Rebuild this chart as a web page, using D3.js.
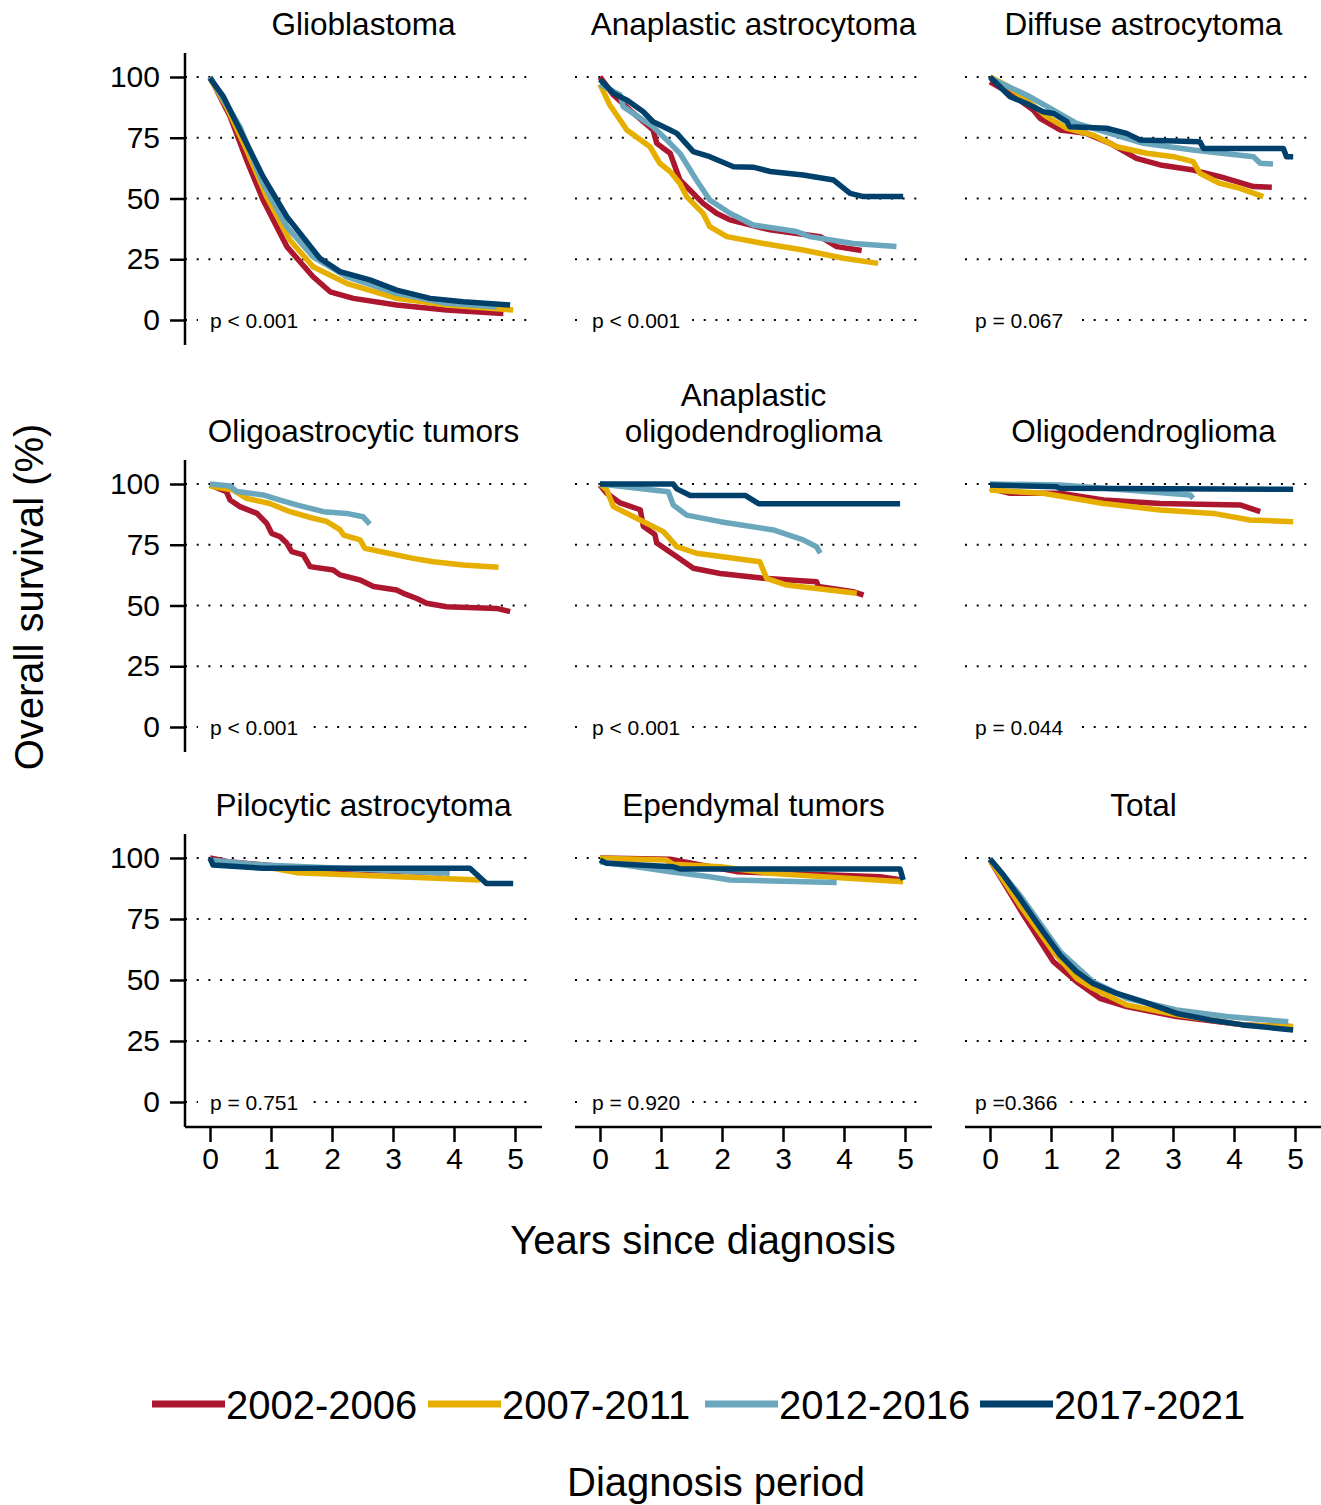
<!DOCTYPE html>
<html>
<head>
<meta charset="utf-8">
<script src="https://cdn.jsdelivr.net/npm/d3@7"></script>
<style>
  html, body { margin: 0; padding: 0; background: #fff; }
  svg text { font-family: "Liberation Sans", Arial, Helvetica, sans-serif; fill: #000; }
</style>
</head>
<body>
<svg id="chart" width="1321" height="1505"></svg>
<script>
// ---------------- DATA ----------------
const periods = ["2002-2006", "2007-2011", "2012-2016", "2017-2021"];
const panelTitles = [
  ["Glioblastoma"], ["Anaplastic astrocytoma"], ["Diffuse astrocytoma"],
  ["Oligoastrocytic tumors"], ["Anaplastic", "oligodendroglioma"], ["Oligodendroglioma"],
  ["Pilocytic astrocytoma"], ["Ependymal tumors"], ["Total"]
];
const pValues = ["p < 0.001", "p < 0.001", "p = 0.067",
                 "p < 0.001", "p < 0.001", "p = 0.044",
                 "p = 0.751", "p = 0.920", "p =0.366"];
const yTicks = [0, 25, 50, 75, 100];
const xTicks = [0, 1, 2, 3, 4, 5];

// each panel: [2002-2006, 2007-2011, 2012-2016, 2017-2021], points = [years, survival %]
const glioblastoma = [
  [[0,100],[0.33,83.7],[0.6,65.8],[0.87,49.4],[1.26,30.2],[1.69,17.8],[1.97,11.6],[2.35,8.9],[3.06,6.2],[3.88,4.1],[4.81,2.7]],
  [[0,99.5],[0.27,87.8],[0.6,70],[0.93,50.7],[1.31,32.9],[1.69,21.9],[2.24,15.1],[3.06,8.9],[3.88,6.2],[4.97,4.1]],
  [[0,100],[0.49,79.5],[0.87,56.2],[1.26,38.4],[1.69,26],[2.24,17.8],[3.06,11],[3.88,6.9],[4.7,5.5]],
  [[0,99.5],[0.22,91.9],[0.49,78.2],[0.87,59],[1.26,42.5],[1.8,25.4],[2.13,19.9],[2.62,16.5],[3.06,12.3],[3.61,8.9],[4.15,7.5],[4.92,6.2]]
];
const anaplasticAstrocytoma = [
  [[0,100],[0.22,92.6],[0.49,86.4],[0.87,78.2],[0.93,72.7],[1.15,68.6],[1.31,57.6],[1.69,48],[1.91,43.9],[2.13,41.2],[2.79,37.1],[3.61,34.3],[3.88,30.2],[4.29,28.6]],
  [[0,97],[0.16,88.5],[0.33,82.3],[0.44,78.2],[0.82,71.3],[0.98,64.5],[1.15,61.1],[1.31,56.2],[1.42,50.8],[1.69,43.9],[1.8,38.4],[2.08,34.3],[2.68,31.5],[3.33,28.8],[3.99,25.4],[4.56,23.3]],
  [[0,97],[0.33,92.6],[0.38,87.8],[0.87,79.5],[1.15,72.7],[1.31,68.6],[1.58,57.6],[1.8,49.4],[2.13,43.9],[2.51,39.1],[3.22,36.4],[3.44,34.3],[4.15,31.5],[4.86,30.2]],
  [[0,99],[0.22,93.3],[0.44,90.5],[0.71,85.7],[0.87,81.6],[1.15,78.2],[1.26,76.8],[1.53,69.3],[1.8,67.2],[2.19,63.1],[2.51,62.9],[2.79,61.1],[3.33,59.7],[3.83,57.6],[4.1,52.1],[4.32,50.8],[4.97,50.8]]
];
const diffuseAstrocytoma = [
  [[0,98],[0.33,93.3],[0.71,86.4],[0.82,83],[1.15,78.2],[1.58,76.8],[1.97,72.7],[2.4,66.5],[2.79,63.8],[3.33,61.7],[3.77,59],[4.32,54.9],[4.62,54.6]],
  [[0,100],[0.27,96.5],[0.6,90.5],[0.93,83.7],[1.26,78.9],[1.69,76.1],[2.08,71.3],[2.57,68.6],[3.01,67.2],[3.33,65.2],[3.44,60.4],[3.77,56.2],[4.1,54.2],[4.48,50.8]],
  [[0,99.5],[0.6,92.6],[1.04,86.4],[1.42,80.9],[1.97,76.8],[2.51,72.7],[3.33,70],[4.32,67.2],[4.43,64.5],[4.64,64.2]],
  [[0,100],[0.33,91.9],[0.6,89.1],[0.87,85.7],[1.04,85],[1.26,81.6],[1.31,79.5],[1.91,78.9],[2.24,76.8],[2.46,74.1],[3.44,73.4],[3.5,70.6],[4.81,70.6],[4.86,67.2],[4.97,67.2]]
];
const oligoastrocytic = [
  [[0,99.6],[0.27,96.8],[0.33,93.4],[0.49,90.7],[0.77,87.9],[0.93,83.8],[1.01,79.7],[1.15,78.3],[1.26,75.6],[1.34,72.2],[1.53,70.8],[1.64,66],[2.02,64.6],[2.13,62.6],[2.46,60.5],[2.68,57.8],[3.06,56.4],[3.17,55],[3.39,52.9],[3.55,50.9],[3.88,49.5],[4.7,48.8],[4.92,47.5]],
  [[0,99.2],[0.38,97.5],[0.6,94.1],[0.98,92],[1.31,88.6],[1.69,85.9],[1.91,84.6],[2.13,81.2],[2.19,79],[2.46,77],[2.54,73.5],[2.79,72.2],[3.33,69.4],[3.66,68],[4.15,66.7],[4.73,65.7]],
  [[0,100],[0.33,99.2],[0.44,96.9],[0.87,95.5],[1.15,93.4],[1.42,91.4],[1.86,88.6],[2.24,87.9],[2.51,86.5],[2.62,83.5]],
  []
];
const anaplasticOligodendroglioma = [
  [[0,99.6],[0.11,96.2],[0.33,92.2],[0.66,89.4],[0.71,82.6],[0.9,79.2],[0.93,75.7],[1.26,70.1],[1.53,65.3],[1.97,63.2],[2.68,61.2],[3.55,59.8],[3.58,57.8],[4.15,55.7],[4.32,54.3]],
  [[0,100],[0.11,97.5],[0.22,90.7],[0.6,85.9],[1.04,80.4],[1.26,74.2],[1.58,71.5],[2.62,68],[2.73,61.2],[3.06,58.4],[4.21,55]],
  [[0,100],[1.12,96.8],[1.2,91.4],[1.42,87.2],[1.97,84.5],[2.84,81.1],[3.33,77],[3.55,74.2],[3.61,71.5]],
  [[0,100],[1.2,100],[1.26,98],[1.48,95.3],[2.38,95.3],[2.6,91.9],[4.92,91.9]]
];
const oligodendroglioma = [
  [[0,98.2],[0.33,96.2],[1.15,96.2],[1.86,93.4],[2.79,92],[4.1,91.4],[4.43,88.6]],
  [[0,97.5],[0.87,96.2],[1.86,92],[2.79,89.3],[3.66,87.9],[4.26,85.2],[4.97,84.5]],
  [[0,100],[1.15,99.6],[2.24,97.5],[3.28,95.5],[3.33,94.1]],
  [[0,99.6],[1.09,98.9],[1.15,98.2],[4.97,97.8]]
];
const pilocyticAstrocytoma = [
  [[0,100],[0.3,98.5],[1.4,96],[3.8,94]],
  [[0,99],[0.87,96.5],[1.42,94],[4.43,91]],
  [[0,99.2],[0.87,97.1],[1.97,96],[3.93,93.7]],
  [[0,99.9],[0.05,97.1],[0.87,95.8],[4.26,95.8],[4.53,89.6],[4.97,89.6]]
];
const ependymal = [
  [[0,100],[1.15,99.5],[2.24,94.4],[4.59,92.3],[4.95,91]],
  [[0,99.9],[1.09,99.2],[1.2,97.4],[1.97,96.4],[2.79,93.7],[4.97,90.3]],
  [[0,98.5],[0.6,96.4],[1.15,94.4],[1.8,92.3],[2.13,91],[3.88,90]],
  [[0,99.2],[0.11,97.8],[1.2,96.4],[1.31,95.5],[4.92,95.5],[4.97,91]]
];
const total = [
  [[0,99.2],[0.55,76.6],[1.04,57.5],[1.42,49.3],[1.8,42.5],[2.24,39.1],[3.06,35],[4.15,31.6],[4.92,30.9]],
  [[0,99.2],[0.49,80.7],[1.04,61.6],[1.42,50.7],[1.69,46.6],[2.24,39.8],[3.06,35.7],[4.15,31.6],[4.97,30.9]],
  [[0,99.6],[0.49,84.8],[1.15,61.6],[1.69,49.3],[2.24,42.5],[3.06,37.7],[3.88,35],[4.89,32.9]],
  [[0,99.6],[0.22,93],[0.49,83.5],[0.87,69.8],[1.15,60.2],[1.42,53.4],[1.69,48.6],[2.08,44.5],[2.51,41.1],[3.06,36.3],[3.61,33.6],[4.15,31.6],[4.97,29.5]]
];
const panelData = [glioblastoma, anaplasticAstrocytoma, diffuseAstrocytoma,
  oligoastrocytic, anaplasticOligodendroglioma, oligodendroglioma,
  pilocyticAstrocytoma, ependymal, total];

// ---------------- LAYOUT / STYLE ----------------
const colors = ["#AC162E", "#E6AF00", "#6BA7BC", "#00406B"];
const colX0 = [210, 600, 990];          // pixel of year 0
const colWidth = 305;                    // pixels for 5 years
const rowY100 = [77, 484, 858];
const rowY0 = [320, 727, 1102];
const titleBase = [35, 442, 816];
const pOffset = [0, -8, -15];

const svg = d3.select("#chart");

panelData.forEach((series, i) => {
  const r = Math.floor(i / 3), c = i % 3;
  const x = d3.scaleLinear().domain([0, 5]).range([colX0[c], colX0[c] + colWidth]);
  const y = d3.scaleLinear().domain([0, 100]).range([rowY0[r], rowY100[r]]);
  const g = svg.append("g");
  const left = x(0) - 25, right = x(5) + 27;

  // dotted grid
  g.selectAll(".grid").data(yTicks).join("line")
    .attr("x1", left).attr("x2", right - 6)
    .attr("y1", d => y(d)).attr("y2", d => y(d))
    .attr("stroke", "#000").attr("stroke-width", 2.2)
    .attr("stroke-dasharray", "2,9.7");

  // p-value label with white box
  const pt = g.append("text")
    .attr("x", x(0) + pOffset[c]).attr("y", y(0) + 7.5)
    .attr("font-size", 21).text(pValues[i]);
  const bb = pt.node().getBBox();
  g.insert("rect", "text")
    .attr("x", bb.x - 12).attr("y", bb.y - 2)
    .attr("width", bb.width + 24).attr("height", bb.height + 4)
    .attr("fill", "#fff");

  // curves
  const line = d3.line().x(d => x(d[0])).y(d => y(d[1])).curve(d3.curveLinear);
  g.selectAll(".km").data(series).join("path")
    .attr("d", d => d.length ? line(d) : null)
    .attr("fill", "none")
    .attr("stroke", (d, k) => colors[k])
    .attr("stroke-width", 5.5)
    .attr("stroke-linejoin", "round");

  // title
  const tl = panelTitles[i];
  tl.forEach((t, k) => {
    g.append("text")
      .attr("x", (left + right) / 2)
      .attr("y", titleBase[r] - (tl.length - 1 - k) * 36)
      .attr("text-anchor", "middle")
      .attr("font-size", 31.5)
      .text(t);
  });

  // y axis (first column)
  if (c === 0) {
    const ya = d3.axisLeft(y).tickValues(yTicks).tickSize(15).tickPadding(10).tickSizeOuter(0);
    const ag = g.append("g").attr("transform", `translate(${left},0)`).call(ya);
    ag.select(".domain").remove();
    ag.selectAll(".tick line").attr("stroke", "#000").attr("stroke-width", 2.5);
    ag.selectAll(".tick text").attr("font-size", 30)
      .attr("font-family", "'Liberation Sans', Arial, sans-serif").attr("fill", "#000");
    g.append("line").attr("x1", left).attr("x2", left)
      .attr("y1", y(100) - 24).attr("y2", y(0) + 25)
      .attr("stroke", "#000").attr("stroke-width", 2.5);
  }
  // x axis (bottom row)
  if (r === 2) {
    const xa = d3.axisBottom(x).tickValues(xTicks).tickFormat(d3.format("d"))
      .tickSize(15).tickPadding(6).tickSizeOuter(0);
    const base = y(0) + 25;
    const ag = g.append("g").attr("transform", `translate(0,${base})`).call(xa);
    ag.select(".domain").remove();
    ag.selectAll(".tick line").attr("stroke", "#000").attr("stroke-width", 2.5);
    ag.selectAll(".tick text").attr("font-size", 30)
      .attr("font-family", "'Liberation Sans', Arial, sans-serif").attr("fill", "#000");
    g.append("line").attr("x1", left).attr("x2", right)
      .attr("y1", base).attr("y2", base)
      .attr("stroke", "#000").attr("stroke-width", 2.5);
  }
});

// axis titles
svg.append("text")
  .attr("transform", "translate(43,597) rotate(-90)")
  .attr("text-anchor", "middle").attr("font-size", 40)
  .text("Overall survival (%)");
svg.append("text")
  .attr("x", 703).attr("y", 1254)
  .attr("text-anchor", "middle").attr("font-size", 40)
  .text("Years since diagnosis");
svg.append("text")
  .attr("x", 716).attr("y", 1496)
  .attr("text-anchor", "middle").attr("font-size", 40)
  .text("Diagnosis period");

// legend
const legX = [152, 428, 705, 980];
const lg = svg.append("g");
periods.forEach((p, k) => {
  lg.append("line")
    .attr("x1", legX[k]).attr("x2", legX[k] + 73)
    .attr("y1", 1404).attr("y2", 1404)
    .attr("stroke", colors[k]).attr("stroke-width", 7);
  lg.append("text")
    .attr("x", legX[k] + 74).attr("y", 1419)
    .attr("font-size", 40).text(p);
});
</script>
</body>
</html>
